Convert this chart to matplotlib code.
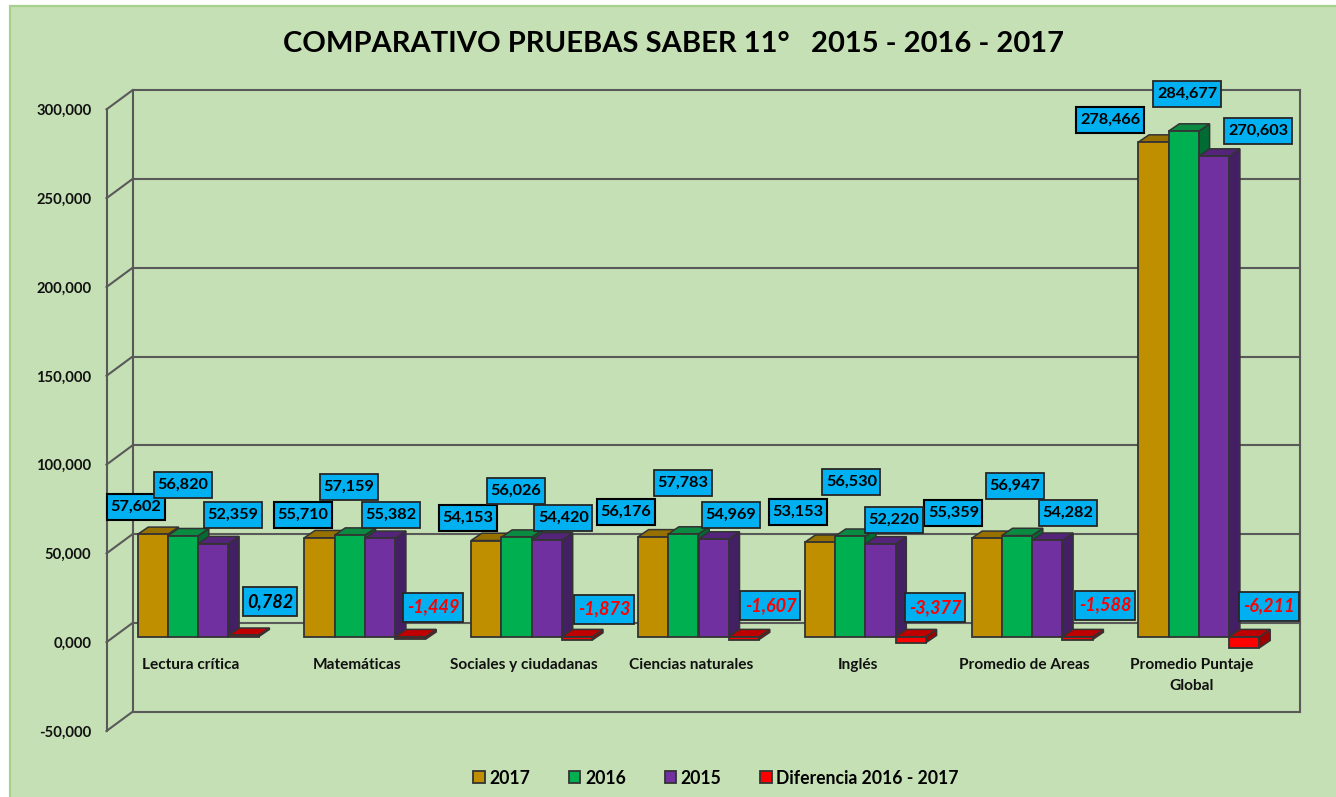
import matplotlib
matplotlib.use("Agg")
import matplotlib.pyplot as plt
from matplotlib.patches import Polygon, Rectangle, Patch

# --- data ---
categories = ["Lectura crítica", "Matemáticas", "Sociales y ciudadanas", "Ciencias naturales",
              "Inglés", "Promedio de Areas", "Promedio Puntaje\nGlobal"]
v2017 = [57.602, 55.710, 54.153, 56.176, 53.153, 55.359, 278.466]
v2016 = [56.820, 57.159, 56.026, 57.783, 56.530, 56.947, 284.677]
v2015 = [52.359, 55.382, 54.420, 54.969, 52.220, 54.282, 270.603]
diff = [0.782, -1.449, -1.873, -1.607, -3.377, -1.588, -6.211]
series_names = ["2017", "2016", "2015", "Diferencia 2016 - 2017"]
y_ticks = [-50, 0, 50, 100, 150, 200, 250, 300]

# --- layout, in pixels of the 1336x797 picture ---
W, H = 1336, 797
PX_PER_CAT = 166.8
PX_PER_UNIT = 1.776
X0 = 198.1   # centre of first group
Y0 = 636.7   # bar base
BAR_PX = 30.3
DEPTH_X, DEPTH_Y = 10.7, 7.3

# label box centres (pixels) for each series
label_pos = [
    [(136, 507), (303, 515), (468, 518), (626, 512), (798, 511.5), (953.5, 512.5), (1110, 120)],
    [(183, 485), (349, 487), (516, 491), (683, 483), (851.5, 481.5), (1015, 486), (1187, 94)],
    [(233, 515), (391, 515), (563.5, 518), (731, 515), (894, 520), (1068, 512.5), (1258, 131)],
    [(270, 601.5), (433.5, 607), (604, 609), (770.5, 605.5), (935.5, 607.5), (1105.5, 605), (1269, 606)],
]


def px(x):
    return (x - X0) / PX_PER_CAT


def py(y):
    return (Y0 - y) / PX_PER_UNIT


def fmt(v):
    return f"{v:.3f}".replace(".", ",")


plt.rcParams["font.family"] = "Lato"
fig = plt.figure(figsize=(W / 100, H / 100), dpi=100, facecolor="white")
ax = fig.add_axes([0, 0, 1, 1])
ax.set_xlim(px(0), px(W))
ax.set_ylim(py(H), py(0))
ax.axis("off")

ax.add_patch(Rectangle((px(10), py(H + 10)), W / PX_PER_CAT, (H + 4) / PX_PER_UNIT,
                       facecolor="#C5E0B4", edgecolor="#A9D18E", linewidth=1.6, zorder=0))

# --- walls ---
wall = dict(color="#595959", linewidth=1.5, zorder=1, solid_capstyle="projecting")
front_shift = py(642.2)
back_shift = py(623.0)
x_front, x_back, x_right = px(106.5), px(132.5), px(1300.5)
for t in y_ticks:
    ax.plot([x_front, x_back], [t + front_shift, t + back_shift], **wall)
    ax.plot([x_back, x_right], [t + back_shift, t + back_shift], **wall)
    ax.text(px(91.5), t + front_shift - 1.5 / PX_PER_UNIT, fmt(t), ha="right", va="center", fontsize=10.6,
            fontweight="bold", color="#111111")
ax.plot([x_front, x_front], [y_ticks[0] + front_shift, y_ticks[-1] + front_shift], **wall)
ax.plot([x_back, x_back], [y_ticks[0] + back_shift, y_ticks[-1] + back_shift], **wall)
ax.plot([x_right, x_right], [y_ticks[0] + back_shift, y_ticks[-1] + back_shift], **wall)

# --- 3d looking bars ---
front_cols = ["#BF8F00", "#00B050", "#7030A0", "#FF0000"]
top_cols = ["#977100", "#0B8A42", "#53247A", "#C00000"]
side_cols = ["#7F6000", "#006B32", "#431F63", "#A00000"]
edge = "#333333"
bw = BAR_PX / PX_PER_CAT
dx = DEPTH_X / PX_PER_CAT
dy = DEPTH_Y / PX_PER_UNIT
xs = list(range(len(categories)))

for j, vals in enumerate([v2017, v2016, v2015, diff]):
    pos = [i + (j - 1.5) * bw for i in xs]
    ax.bar(pos, vals, width=bw, color=front_cols[j], edgecolor=edge, linewidth=1.3, zorder=3 + j + 0.5)
    for x, v in zip(pos, vals):
        r = x + bw / 2
        l = x - bw / 2
        hi = max(v, 0)
        lo = min(v, 0)
        ax.add_patch(Polygon([(r, lo), (r + dx, lo + dy), (r + dx, hi + dy), (r, hi)],
                             facecolor=side_cols[j], edgecolor=edge, linewidth=1.1, zorder=3 + j))
        ax.add_patch(Polygon([(l, hi), (l + dx, hi + dy), (r + dx, hi + dy), (r, hi)],
                             facecolor=top_cols[j], edgecolor=edge, linewidth=1.1, zorder=3 + j))

# --- data labels: fixed size boxes, later series on top ---
for j, vals in enumerate([v2017, v2016, v2015, diff]):
    for (lx, ly), v in zip(label_pos[j], vals):
        is_diff = j == 3
        label = fmt(v)
        txt_col = "#FF0000" if is_diff and v < 0 else "black"
        if is_diff:
            bw_px, bh_px = (54, 29) if v > 0 else (60, 29)
        else:
            bw_px, bh_px = (68, 26) if len(label) == 7 else (58, 26)
        ax.add_patch(Rectangle((px(lx - bw_px / 2), py(ly + bh_px / 2)), bw_px / PX_PER_CAT, bh_px / PX_PER_UNIT,
                               facecolor="#00B0F0", edgecolor="black" if j == 0 else "#262626",
                               linewidth=1.5 if j == 0 else 1.3, zorder=20 + j))
        ax.text(px(lx), py(ly), label, ha="center", va="center",
                fontsize=13 if is_diff else 11.7, fontweight="bold",
                fontstyle="italic" if is_diff else "normal", color=txt_col, zorder=20 + j + 0.5)

# --- category labels ---
for i, name in zip(xs, categories):
    ax.text(i - 7.5 / PX_PER_CAT, py(658), name, ha="center", va="top", fontsize=11.1,
            fontweight="bold", color="#111111", linespacing=1.6, zorder=6)

ax.text(px(673.5), py(44.5), "COMPARATIVO PRUEBAS SABER 11°   2015 - 2016 - 2017", ha="center", va="center",
        fontsize=21, fontweight="bold", color="black")

handles = [Patch(facecolor=c, edgecolor=edge, linewidth=1.3) for c in front_cols]
ax.legend(handles, series_names, ncol=4, frameon=False, loc="center", bbox_to_anchor=(716 / W, 1 - 778 / H),
          prop={"size": 12.7, "weight": "bold"}, handlelength=0.66, handleheight=0.66, handletextpad=0.25,
          columnspacing=2.2)

fig.savefig("out.png", dpi=100)
